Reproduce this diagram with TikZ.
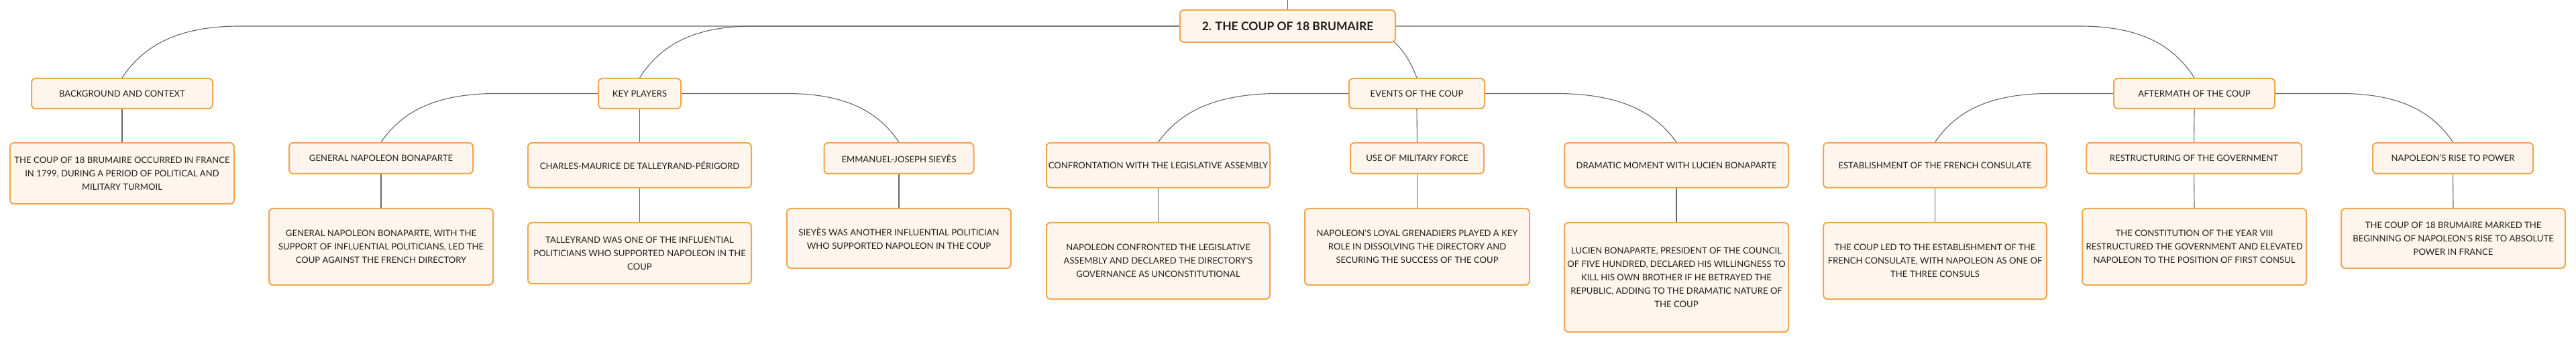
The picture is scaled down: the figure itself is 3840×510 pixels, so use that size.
\documentclass[tikz,border=0pt]{standalone}
\usepackage{fontspec}
\setmainfont{Lato}
\pgfdeclarelayer{background}
\pgfsetlayers{background,main}
\definecolor{boxborder}{HTML}{F4A54F}
\definecolor{boxfill}{HTML}{FEF5EC}
\definecolor{linkgray}{HTML}{666666}
\definecolor{txt}{HTML}{1E1E1E}
\tikzset{
  mbox/.style={rectangle, rounded corners=6pt, draw=boxborder, line width=2pt,
    fill=boxfill, inner sep=0pt, align=center, text=txt,
    font=\fontsize{13.1}{20}\selectfont},
  titlebox/.style={mbox, font=\fontsize{17.5}{21}\selectfont\bfseries},
  link/.style={draw=linkgray, line width=1.1pt}
}
\begin{document}
\begin{tikzpicture}[x=1pt,y=-1pt]
\useasboundingbox (0,0) rectangle (3840,510);

% title
\node[titlebox, minimum width=321pt, minimum height=48pt] (title) at (1919.5,39) {2. THE COUP OF 18 BRUMAIRE};
\coordinate (top) at (1919.5,0);

% level 1
\node[mbox, minimum width=270pt, minimum height=45pt] (bg) at (182,139.5) {BACKGROUND AND CONTEXT};
\node[mbox, minimum width=123pt, minimum height=45pt] (kp) at (953.5,139.5) {KEY PLAYERS};
\node[mbox, minimum width=202pt, minimum height=45pt] (ev) at (2112,139.5) {EVENTS OF THE COUP};
\node[mbox, minimum width=240pt, minimum height=45pt] (af) at (3271,139.5) {AFTERMATH OF THE COUP};

% level 2
\node[mbox, minimum width=334pt, minimum height=91pt] (bgd) at (182,258.5) {THE COUP OF 18 BRUMAIRE OCCURRED IN FRANCE\\IN 1799, DURING A PERIOD OF POLITICAL AND\\MILITARY TURMOIL};
\node[mbox, minimum width=274pt, minimum height=46pt] (gnb) at (568,236) {GENERAL NAPOLEON BONAPARTE};
\node[mbox, minimum width=333pt, minimum height=67pt] (tal) at (953.5,246.5) {CHARLES-MAURICE DE TALLEYRAND-PÉRIGORD};
\node[mbox, minimum width=223pt, minimum height=46pt] (ejs) at (1340,236) {EMMANUEL-JOSEPH SIEYÈS};
\node[mbox, minimum width=333pt, minimum height=67pt] (con) at (1726.5,246.5) {CONFRONTATION WITH THE LEGISLATIVE ASSEMBLY};
\node[mbox, minimum width=199pt, minimum height=46pt] (umf) at (2112.5,236) {USE OF MILITARY FORCE};
\node[mbox, minimum width=334pt, minimum height=67pt] (dra) at (2499,246.5) {DRAMATIC MOMENT WITH LUCIEN BONAPARTE};
\node[mbox, minimum width=333pt, minimum height=67pt] (est) at (2884.5,246.5) {ESTABLISHMENT OF THE FRENCH CONSULATE};
\node[mbox, minimum width=321pt, minimum height=46pt] (res) at (3270.5,236) {RESTRUCTURING OF THE GOVERNMENT};
\node[mbox, minimum width=239pt, minimum height=46pt] (rise) at (3656.5,236) {NAPOLEON'S RISE TO POWER};

% level 3
\node[mbox, minimum width=334pt, minimum height=114pt] (gnbd) at (568,368) {GENERAL NAPOLEON BONAPARTE, WITH THE\\SUPPORT OF INFLUENTIAL POLITICIANS, LED THE\\COUP AGAINST THE FRENCH DIRECTORY};
\node[mbox, minimum width=333pt, minimum height=91pt] (tald) at (953.5,377.5) {TALLEYRAND WAS ONE OF THE INFLUENTIAL\\POLITICIANS WHO SUPPORTED NAPOLEON IN THE\\COUP};
\node[mbox, minimum width=334pt, minimum height=89pt] (ejsd) at (1340,355.5) {SIEYÈS WAS ANOTHER INFLUENTIAL POLITICIAN\\WHO SUPPORTED NAPOLEON IN THE COUP};
\node[mbox, minimum width=333pt, minimum height=114pt] (cond) at (1726.5,389) {NAPOLEON CONFRONTED THE LEGISLATIVE\\ASSEMBLY AND DECLARED THE DIRECTORY'S\\GOVERNANCE AS UNCONSTITUTIONAL};
\node[mbox, minimum width=335pt, minimum height=114pt] (umfd) at (2112.5,368) {NAPOLEON'S LOYAL GRENADIERS PLAYED A KEY\\ROLE IN DISSOLVING THE DIRECTORY AND\\SECURING THE SUCCESS OF THE COUP};
\node[mbox, minimum width=334pt, minimum height=163pt] (drad) at (2499,413.5) {LUCIEN BONAPARTE, PRESIDENT OF THE COUNCIL\\OF FIVE HUNDRED, DECLARED HIS WILLINGNESS TO\\KILL HIS OWN BROTHER IF HE BETRAYED THE\\REPUBLIC, ADDING TO THE DRAMATIC NATURE OF\\THE COUP};
\node[mbox, minimum width=333pt, minimum height=114pt] (estd) at (2884.5,389) {THE COUP LED TO THE ESTABLISHMENT OF THE\\FRENCH CONSULATE, WITH NAPOLEON AS ONE OF\\THE THREE CONSULS};
\node[mbox, minimum width=334pt, minimum height=114pt] (resd) at (3271,368) {THE CONSTITUTION OF THE YEAR VIII\\RESTRUCTURED THE GOVERNMENT AND ELEVATED\\NAPOLEON TO THE POSITION OF FIRST CONSUL};
\node[mbox, minimum width=334pt, minimum height=89pt] (rised) at (3657,355.5) {THE COUP OF 18 BRUMAIRE MARKED THE\\BEGINNING OF NAPOLEON'S RISE TO ABSOLUTE\\POWER IN FRANCE};

\begin{pgfonlayer}{background}
\fill[white] (0,0) rectangle (3840,510);
\draw[link] (title.north) -- (top);
% title children
\draw[link] (title.west) -- (357,39) .. controls +(-100,0) and +(28,-42) .. (bg.north);
\draw[link] (title.west) -- (1122,39) .. controls +(-97,0) and +(27,-42) .. (kp.north);
\draw[link] (2011,39) .. controls +(58,0) and +(-16,-42) .. (ev.north);
\draw[link] (title.east) -- (3101,39) .. controls +(98,0) and +(-27,-42) .. (af.north);
% key players children
\draw[link] (kp.west) -- (740,139.5) .. controls +(-99,0) and +(27.5,-40) .. (gnb.north);
\draw[link] (kp.south) -- (tal.north);
\draw[link] (kp.east) -- (1173,139.5) .. controls +(96,0) and +(-27,-40) .. (ejs.north);
% events children
\draw[link] (ev.west) -- (1907,139.5) .. controls +(-104,0) and +(29,-40) .. (con.north);
\draw[link] (ev.south) -- (umf.north);
\draw[link] (ev.east) -- (2319,139.5) .. controls +(104,0) and +(-29,-40) .. (dra.north);
% aftermath children
\draw[link] (af.west) -- (3055,139.5) .. controls +(-98,0) and +(27,-40) .. (est.north);
\draw[link] (af.south) -- (res.north);
\draw[link] (af.east) -- (3489,139.5) .. controls +(96,0) and +(-27,-40) .. (rise.north);
% descriptions
\draw[link] (bg.south) -- (bgd.north);
\draw[link] (gnb.south) -- (gnbd.north);
\draw[link] (tal.south) -- (tald.north);
\draw[link] (ejs.south) -- (ejsd.north);
\draw[link] (con.south) -- (cond.north);
\draw[link] (umf.south) -- (umfd.north);
\draw[link] (dra.south) -- (drad.north);
\draw[link] (est.south) -- (estd.north);
\draw[link] (res.south) -- (resd.north);
\draw[link] (rise.south) -- (rised.north);
\end{pgfonlayer}
\end{tikzpicture}
\end{document}
